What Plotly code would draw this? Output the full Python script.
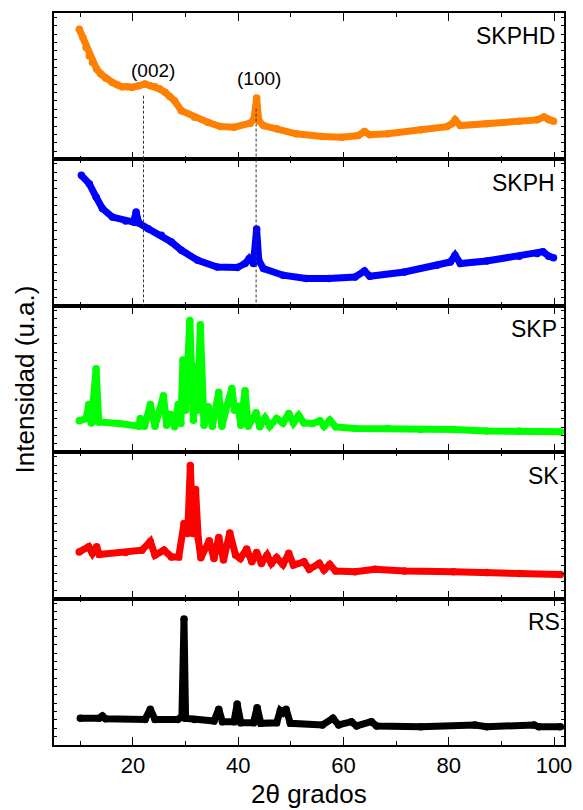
import plotly.graph_objects as go
from plotly.subplots import make_subplots

# XRD patterns (2-theta in degrees, intensity in arbitrary units, 0-100 per panel)
skphd_x = [9.8, 10.5, 11.1, 11.7, 12.3, 13.1, 13.9, 14.8, 16.1, 17.0, 17.9, 18.9, 19.8, 21.1,
           22.3, 23.3, 24.2, 25.1, 26.1, 27.0, 27.9, 29.2, 31.7, 34.2, 36.6, 39.2, 42.3, 43.0,
           43.5, 43.9, 44.8, 47.3, 51.0, 56.0, 59.7, 62.8, 64.0, 65.0, 68.4, 74.7, 79.7, 80.6,
           81.2, 82.2, 87.2, 93.4, 96.8, 98.1, 99.0, 99.9]
skphd_y = [88.9, 83.2, 76.4, 70.7, 66.2, 61.7, 58.3, 55.6, 52.6, 51.0, 49.7, 49.7, 49.2, 50.3,
           51.5, 50.3, 49.7, 48.1, 45.8, 42.9, 40.1, 33.3, 28.8, 25.4, 22.4, 22.0, 24.7, 27.7,
           42.0, 26.5, 23.1, 20.9, 17.5, 15.6, 15.2, 16.3, 19.0, 16.8, 17.5, 20.2, 22.4, 24.3,
           27.0, 23.1, 24.3, 26.1, 27.0, 29.0, 27.0, 26.1]

skph_x = [10.2, 11.7, 13.0, 14.2, 16.1, 18.6, 20.1, 20.6, 21.1, 22.9, 25.4, 27.3, 29.2, 32.3,
          36.0, 39.8, 41.3, 42.1, 42.9, 43.5, 43.9, 44.8, 48.5, 52.9, 57.2, 62.2, 64.0, 65.0,
          71.6, 77.8, 80.3, 81.2, 82.2, 87.2, 93.4, 96.8, 97.9, 99.0, 99.9]
skph_y = [89.1, 83.4, 74.3, 66.4, 60.6, 57.9, 57.2, 64.0, 56.6, 52.7, 48.2, 43.6, 37.9, 31.1,
          26.5, 26.1, 28.9, 32.3, 28.9, 52.5, 31.1, 25.4, 20.9, 18.6, 18.6, 19.7, 23.8, 20.2,
          23.1, 27.7, 29.9, 34.5, 28.9, 30.6, 33.8, 35.7, 37.0, 33.8, 32.9]

skp_x = [9.8, 11.1, 11.6, 12.1, 13.0, 13.5, 17.3, 21.1, 21.4, 22.2, 23.3, 24.2, 25.8, 26.4,
         27.1, 27.9, 28.6, 29.1, 29.5, 30.0, 30.8, 31.2, 31.5, 31.9, 32.3, 32.8, 33.2, 33.5,
         34.3, 35.1, 36.3, 36.9, 37.9, 38.8, 39.3, 40.0, 40.5, 41.3, 41.9, 43.4, 44.1, 45.1,
         46.0, 47.3, 48.5, 49.6, 50.5, 51.5, 52.5, 54.1, 55.5, 56.3, 57.4, 58.5, 62.2, 68.4,
         74.7, 80.9, 87.2, 93.4, 101.2]
skp_y = [21.4, 23.0, 32.5, 20.0, 57.0, 20.7, 19.6, 17.8, 23.0, 17.8, 32.5, 17.8, 38.5, 18.4,
         26.0, 17.3, 32.5, 19.6, 63.0, 28.7, 90.0, 35.5, 21.9, 58.3, 28.7, 87.0, 28.7, 18.4,
         31.0, 17.8, 41.0, 17.8, 32.1, 43.5, 28.7, 31.4, 18.4, 42.0, 17.8, 27.0, 17.3, 23.3,
         17.8, 23.0, 20.0, 26.5, 20.0, 25.0, 20.0, 19.6, 21.4, 17.8, 21.9, 17.3, 16.2, 16.2,
         15.5, 15.5, 14.5, 14.5, 14.0]

sk_x = [9.8, 11.6, 12.3, 13.1, 13.6, 18.6, 21.7, 23.3, 24.2, 25.9, 27.3, 28.7, 29.7, 30.4,
        30.9, 31.4, 31.9, 32.4, 32.9, 34.5, 35.4, 36.3, 37.2, 38.4, 39.5, 40.4, 41.6, 42.6,
        43.5, 44.4, 45.5, 46.3, 47.3, 48.5, 49.6, 50.5, 52.5, 53.5, 55.4, 56.3, 57.4, 58.5,
        62.2, 66.0, 71.6, 80.9, 87.2, 93.4, 101.2]
sk_y = [31.9, 35.4, 30.9, 35.4, 30.2, 31.5, 33.1, 39.0, 29.7, 33.1, 28.5, 28.5, 51.3, 44.5,
        91.0, 44.5, 74.5, 41.1, 27.9, 39.5, 27.4, 41.8, 26.3, 44.8, 29.7, 27.4, 33.8, 25.1,
        31.5, 24.0, 29.7, 24.0, 27.9, 23.3, 30.9, 22.9, 25.1, 20.1, 24.0, 19.5, 23.3, 18.8,
        18.3, 20.1, 18.8, 18.3, 17.9, 17.2, 16.5]

rs_x = [10.0, 13.6, 14.2, 14.8, 22.3, 23.3, 24.2, 28.5, 29.3, 29.7, 30.0, 31.7, 35.4, 36.3,
        37.0, 39.2, 39.8, 40.5, 42.9, 43.6, 44.3, 47.3, 48.0, 48.5, 49.1, 49.9, 56.0, 58.0,
        59.1, 61.5, 62.5, 65.3, 66.3, 74.7, 85.0, 87.2, 96.2, 97.1, 101.2]
rs_y = [18.2, 18.2, 19.8, 18.0, 17.5, 24.5, 17.5, 17.5, 19.3, 86.0, 18.2, 17.5, 16.4, 24.5,
        15.9, 15.9, 28.0, 15.2, 15.2, 25.5, 14.8, 15.2, 23.5, 22.0, 24.5, 14.8, 13.7, 18.2,
        13.7, 15.9, 13.0, 15.9, 13.0, 12.5, 13.7, 12.5, 13.7, 12.5, 12.5]

names = ["SKPHD", "SKPH", "SKP", "SK", "RS"]
label_right_px = [557, 557, 559, 561, 562]
colors = ["#FF8000", "#0000FF", "#00FF00", "#FF0000", "#000000"]
xs = [skphd_x, skph_x, skp_x, sk_x, rs_x]
ys = [skphd_y, skph_y, skp_y, sk_y, rs_y]

# Reflection markers: position, label, label height and dashed-line start (panel 1 units)
peak_pos = [22.0, 43.4]
peak_labels = ["(002)", "(100)"]
peak_label_x = [23.9, 44.0]
peak_label_y = [60.5, 55.1]
peak_line_top = [43.5, 34.7]

FONT = "Liberation Sans, Arial, sans-serif"

fig = make_subplots(rows=5, cols=1, shared_xaxes=True, vertical_spacing=0)

for i in range(5):
    # round dots at every vertex give the thick trace rounded joins and peak tips
    fig.add_trace(go.Scatter(
        x=xs[i], y=ys[i], mode="lines+markers",
        line=dict(color=colors[i], width=7),
        marker=dict(color=colors[i], size=7.5, line=dict(width=0)),
        showlegend=False, hoverinfo="skip"),
        row=i + 1, col=1)

    fig.update_yaxes(range=[0, 100], showticklabels=False, ticks="inside", ticklen=3,
                     tick0=0, dtick=5.7, tickcolor="black", showgrid=False, zeroline=False,
                     showline=True, linecolor="black", linewidth=1.5, mirror="ticks",
                     row=i + 1, col=1)
    fig.update_xaxes(range=[5.0, 101.9], ticks="inside", ticklen=8, tickwidth=1.3,
                     tickcolor="black", tick0=0, dtick=20, showgrid=False, zeroline=False,
                     showline=True, linecolor="black", linewidth=1.5, mirror="ticks",
                     minor=dict(ticks="inside", ticklen=4, tickcolor="black", dtick=10,
                                tick0=0, showgrid=False),
                     showticklabels=(i == 4),
                     tickfont=dict(family=FONT, size=22, color="black"),
                     row=i + 1, col=1)

    yref = "y domain" if i == 0 else f"y{i + 1} domain"
    fig.add_annotation(text=names[i], xref="paper", x=(label_right_px[i] + 8 - 54) / 518,
                       xanchor="right", yref=yref, y=1 - 23.5 / 146.6, yanchor="middle",
                       showarrow=False, font=dict(family=FONT, size=23, color="black"))

for k in range(2):
    fig.add_shape(type="line", xref="x", yref="y", x0=peak_pos[k], x1=peak_pos[k],
                  y0=peak_line_top[k], y1=0,
                  line=dict(color="#333333", width=1, dash="3px,2px"))
    fig.add_shape(type="line", xref="x2", yref="y2", x0=peak_pos[k], x1=peak_pos[k],
                  y0=100, y1=0,
                  line=dict(color="#333333", width=1, dash="3px,2px"))
    fig.add_annotation(text=peak_labels[k], xref="x", yref="y", x=peak_label_x[k],
                       y=peak_label_y[k], showarrow=False,
                       font=dict(family=FONT, size=19, color="black"))

fig.add_annotation(text="Intensidad (u.a.)", textangle=-90, xref="paper", yref="paper",
                   x=(25 - 54) / 518, y=0.5, xanchor="center", yanchor="middle",
                   showarrow=False, font=dict(family=FONT, size=26, color="black"))
fig.add_annotation(text="2θ grados", xref="paper", yref="paper",
                   x=(313 - 54) / 518, y=(745 - 794) / 733, xanchor="center",
                   yanchor="middle", showarrow=False,
                   font=dict(family=FONT, size=26, color="black"))

fig.update_layout(width=583, height=810, margin=dict(l=54, r=11, t=12, b=65),
                  plot_bgcolor="white", paper_bgcolor="white")

fig.write_html("out.html")
